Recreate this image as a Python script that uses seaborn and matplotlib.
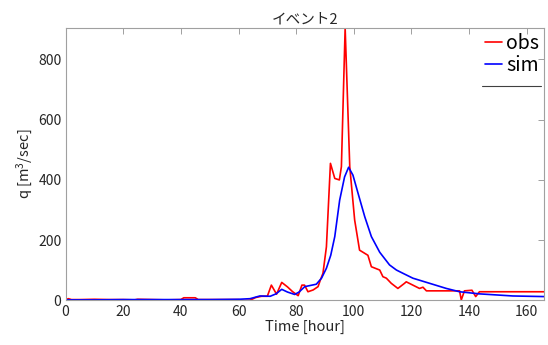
import matplotlib
matplotlib.use("Agg")
import matplotlib.pyplot as plt
import seaborn as sns
import numpy as np

# ---- data ----
t_obs = [0, 1, 2, 5, 10, 15, 20, 24, 25, 30, 35, 40, 41, 45, 46, 50, 55, 60, 62, 64,
         66, 68, 70, 71.4, 73.2, 75, 77, 78.8, 80.7, 82, 82.9, 84.1, 85.9, 87.6, 88.4,
         89.3, 90.5, 91.9, 93.4, 95, 95.7, 97, 98.6, 100.3, 102, 104.9, 106.1, 109,
         110.1, 111.3, 113, 115.3, 117.6, 118.2, 120.5, 122.8, 124, 125.2, 130,
         136.7, 137.3, 138.4, 141, 142.3, 143.6, 150, 160, 166]
q_obs = [3, 6, 3, 3, 4, 3, 3, 2, 4, 3, 2, 3, 9, 9, 3, 3, 3, 3, 0, 1,
         10, 14, 14, 51, 21, 60, 45, 29, 16, 51, 51, 29, 35, 46, 68,
         90, 178, 455, 405, 400, 444, 904, 444, 267, 167, 150, 112, 101,
         79, 74, 57, 40, 57, 62, 51, 40, 44, 32, 32,
         32, 2, 32, 34, 13, 29, 29, 29, 29]

t_sim = [0, 10, 20, 30, 40, 50, 60, 64, 67.4, 71, 73, 75, 77, 79.5, 81, 83, 85, 87,
         88.8, 90.5, 92, 93.4, 95.1, 96.8, 98.2, 99.7, 101.5, 103.8, 106.1, 109,
         112.4, 114.8, 117.1, 120.5, 126.3, 132.1, 136.7, 143.6, 155.2, 166]
q_sim = [2, 2, 3, 3, 3, 3, 4, 6, 15, 14, 22, 37, 28, 20, 28, 46, 50, 54,
         74, 107, 150, 212, 333, 410, 442, 416, 355, 278, 212, 160,
         118, 101, 90, 74, 57, 40, 29, 22, 15, 13]

title = "イベント2"
xlabel = "Time [hour]"
ylabel = "q [m$^{3}$/sec]"
series_names = ["obs", "sim"]

# ---- style ----
sns.set_theme(style="white")
plt.rcParams['font.family'] = ['Noto Sans CJK JP', 'DejaVu Sans']
plt.rcParams['mathtext.fontset'] = 'custom'
plt.rcParams['mathtext.rm'] = 'Noto Sans CJK JP'
plt.rcParams['mathtext.it'] = 'Noto Sans CJK JP'

fig = plt.figure(figsize=(5.48, 3.45), dpi=100)
ax = fig.add_axes([0.1197, 0.129, 0.873, 0.7898])

sns.lineplot(x=t_obs, y=q_obs, ax=ax, color="red", lw=1.2, label=series_names[0])
sns.lineplot(x=t_sim, y=q_sim, ax=ax, color="blue", lw=1.2, label=series_names[1])

ax.set_xlim(0, 166)
ax.set_ylim(0, max(q_obs))
ax.set_xticks(np.arange(0, 161, 20))
ax.set_yticks(np.arange(0, 801, 200))

gray = "#a0a0a0"
for s in ax.spines.values():
    s.set_color(gray)
    s.set_linewidth(0.8)
ax.tick_params(direction="in", length=4, width=0.7, color=gray,
               top=True, right=True, labelsize=10, labelcolor="#262626", pad=3)

ax.set_title(title, fontsize=10.5, color="#262626", pad=3)
ax.set_xlabel(xlabel, fontsize=10.5, color="#262626", labelpad=1)
ax.set_ylabel(ylabel, fontsize=10.5, color="#262626", labelpad=2)

leg = ax.legend(loc="upper right", frameon=False, fontsize=14,
                handlelength=0.9, handletextpad=0.2, labelspacing=0.05,
                borderaxespad=0.15, borderpad=0.1)
for t in leg.get_texts():
    t.set_color("black")
ax.plot([0.87, 0.994], [0.788, 0.788], transform=ax.transAxes,
        color="#404040", lw=0.8, clip_on=False)

fig.savefig("out.png", dpi=100)
